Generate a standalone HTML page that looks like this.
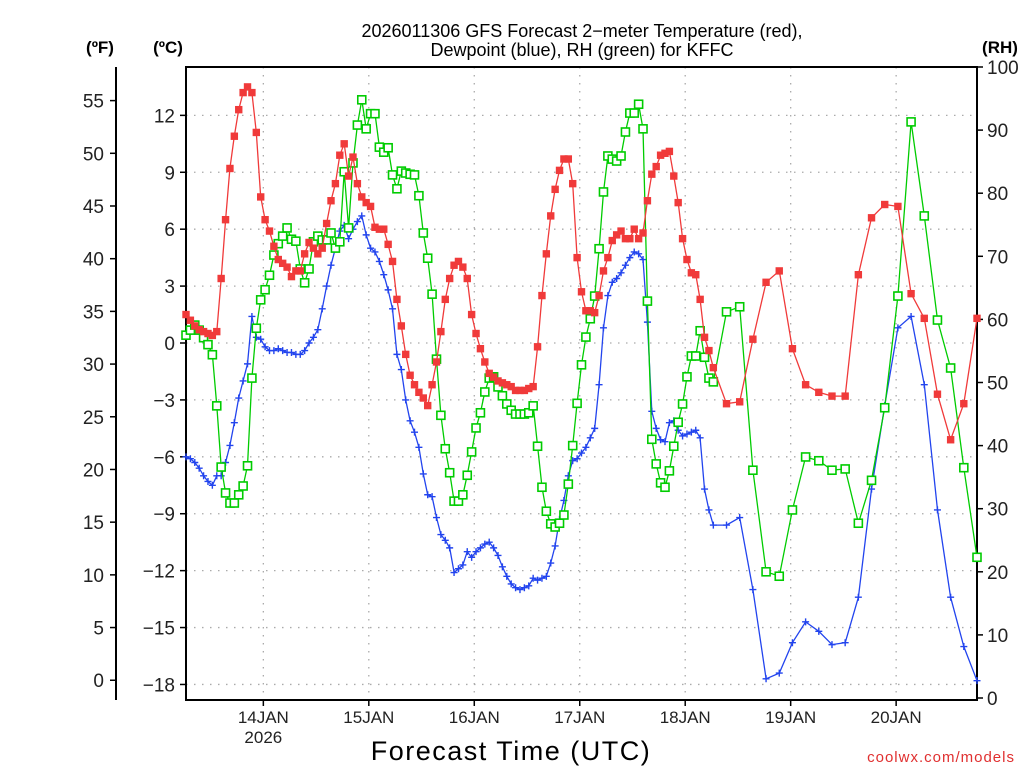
<!DOCTYPE html>
<html><head><meta charset="utf-8"><title>GFS KFFC</title>
<style>
html,body{margin:0;padding:0;background:#fff;}
svg{display:block;font-family:"Liberation Sans",sans-serif;}
</style></head>
<body>
<svg id="chart" width="1024" height="768" viewBox="0 0 1024 768" xmlns="http://www.w3.org/2000/svg">
<rect x="0" y="0" width="1024" height="768" fill="#fff"/>
<g id="grid"></g>
<g id="axes"></g>
<g id="series"></g>
<text x="582" y="37" font-size="18" text-anchor="middle" fill="#000">2026011306 GFS Forecast 2−meter Temperature (red),</text>
<text x="582" y="56" font-size="18" text-anchor="middle" fill="#000">Dewpoint (blue), RH (green) for KFFC</text>
<text x="100" y="53" font-size="17" font-weight="bold" text-anchor="middle">(ºF)</text>
<text x="168" y="53" font-size="17" font-weight="bold" text-anchor="middle">(ºC)</text>
<text x="1000" y="53" font-size="17" font-weight="bold" text-anchor="middle">(RH)</text>
<text x="511" y="760" font-size="27" letter-spacing="1.5" text-anchor="middle">Forecast Time (UTC)</text>
<text x="1015" y="762" font-size="15" letter-spacing="1" text-anchor="end" fill="#e03030">coolwx.com/models</text>
</svg>
<script>
// ---- data ----
const hourlyTemp = [1.5,1.2,0.9,0.7,0.6,0.5,0.4,0.6,3.4,6.5,9.2,10.9,12.3,13.2,13.5,13.2,11.1,7.7,6.5,5.9,5.1,4.4,4.2,4.0,3.5,3.8,3.8,4.7,5.3,5.0,4.7,5.0,6.3,7.5,8.4,9.9,10.5,8.8,9.8,8.4,7.7,7.4,7.2,6.1,6.0,6.0,5.2,4.3,2.3,0.9,-0.6,-1.7,-2.2,-2.6,-2.9,-3.3,-2.2,-1.0,0.6,2.3,3.4,4.1,4.3,4.0,3.4,1.5,0.5,-0.3,-1.0,-1.6,-1.8,-2.0,-2.1,-2.2,-2.3,-2.5,-2.5,-2.5,-2.4,-2.3,-0.2,2.5,4.7,6.7,8.1,9.1,9.7,9.7,8.4,4.5,2.7,1.7,1.7,1.6,2.5,3.8,4.5,5.4,5.7,5.9,5.5,5.5,6.0,5.5,5.8,7.5,8.9,9.3,9.9,10.0,10.1,8.8,7.4,5.5,4.4,3.7,3.6,2.3,0.3,-0.4,-1.3];
const threeHourlyTemp = [-3.2,-3.1,0.2,3.2,3.8,-0.3,-2.2,-2.6,-2.8,-2.8,3.6,6.6,7.3,7.2,2.6,1.3,-2.7,-5.1,-3.2,1.3];
const hourlyDew = [-6.0,-6.1,-6.3,-6.6,-7.0,-7.3,-7.5,-7.0,-7.0,-6.3,-5.4,-4.2,-2.9,-2.0,-1.1,1.4,0.3,0.2,-0.2,-0.4,-0.4,-0.3,-0.4,-0.5,-0.5,-0.6,-0.6,-0.4,0,0.3,0.7,1.8,3.0,4.1,5.0,5.9,6.2,5.5,6.0,6.4,6.7,5.7,5.0,4.8,4.3,3.6,2.8,1.8,-0.6,-1.4,-3.0,-4.1,-4.7,-5.5,-6.9,-8.0,-8.1,-9.2,-10.1,-10.4,-10.8,-12.1,-11.9,-11.7,-11.0,-11.3,-11.0,-10.8,-10.6,-10.5,-10.8,-11.2,-11.8,-12.3,-12.7,-12.9,-13.0,-12.9,-12.8,-12.4,-12.5,-12.4,-12.3,-11.6,-10.7,-9.3,-8.3,-7.0,-6.2,-6.1,-5.8,-5.5,-5.0,-4.5,-2.2,0.8,2.5,3.2,3.4,3.7,4.1,4.5,4.8,4.7,4.4,1.1,-3.6,-4.5,-5.1,-5.2,-4.2,-4.1,-4.6,-4.9,-4.8,-4.7,-4.6,-5.0,-7.7,-8.8,-9.6];
const threeHourlyDew = [-9.6,-9.2,-13.0,-17.7,-17.4,-15.8,-14.7,-15.2,-15.9,-15.8,-13.4,-7.7,-3.3,0.8,1.4,-2.2,-8.8,-13.4,-16.0,-17.8];
const hourlyRH = [57.5,58.3,59.1,58.3,57.1,56.0,54.4,46.3,36.6,32.5,30.9,30.9,32.2,33.6,36.8,50.7,58.6,63.1,64.7,67.0,70.2,72.0,73.2,74.5,72.7,72.4,68.0,65.8,68.0,72.3,73.2,72.6,72.6,73.7,71.3,72.3,83.4,74.5,84.8,90.8,94.8,90.2,92.6,92.6,87.3,86.5,87.2,82.9,80.7,83.5,83.2,83.0,82.9,79.6,73.7,69.7,64.0,53.7,44.8,39.5,35.7,31.2,31.2,32.2,35.3,39.0,42.8,45.2,48.5,50.7,50.9,49.3,47.9,46.6,45.6,45.0,45.0,45.0,45.2,46.3,39.9,33.4,29.6,27.6,27.1,27.7,29.0,33.9,40.0,46.7,52.8,57.2,60.1,63.7,71.2,80.2,85.9,85.4,85.1,85.9,89.7,92.7,92.7,94.1,90.2,62.9,41.0,37.1,34.1,33.4,36.0,39.9,43.7,46.6,50.9,54.2,54.2,58.2,54.0,50.7,50.1];
const threeHourlyRH = [61.2,62.0,36.1,20.0,19.3,29.8,38.2,37.6,36.1,36.3,27.7,34.5,46.0,63.7,91.3,76.4,59.9,52.3,36.5,22.3];
const dayTickHours = [17.6,41.6,65.6,89.6,113.6,137.6,161.6];
const dayTickLabels = ["14JAN","15JAN","16JAN","17JAN","18JAN","19JAN","20JAN"];
const celsiusTicks = [12,9,6,3,0,-3,-6,-9,-12,-15,-18];
const fahrenheitTicks = [55,50,45,40,35,30,25,20,15,10,5,0];
const rhTicks = [100,90,80,70,60,50,40,30,20,10,0];

// ---- scales ----
const X0=186, X1=977, YT=67, YB=700;
function xH(h){return X0 + h*(X1-X0)/180;}
function yC(c){return 343 - c*18.97;}
function yF(f){return yC((f-32)*5/9);}
function yR(r){return 698 - r*6.31;}
const NS="http://www.w3.org/2000/svg";
function mk(tag,attrs,parent){const e=document.createElementNS(NS,tag);for(const k in attrs)e.setAttribute(k,attrs[k]);parent.appendChild(e);return e;}

const grid=document.getElementById('grid'), axes=document.getElementById('axes'), series=document.getElementById('series');

celsiusTicks.forEach(c=>{
  const l=mk('line',{x1:X0,x2:X1,y1:yC(c),y2:yC(c),stroke:'#aaa','stroke-width':1.3,'stroke-dasharray':'1.5 6.5'},grid);
  
  
});
dayTickHours.forEach(h=>{
  const l=mk('line',{x1:xH(h),x2:xH(h),y1:YT,y2:YB,stroke:'#aaa','stroke-width':1.3,'stroke-dasharray':'1.5 6.5'},grid);
  
  
});

const fr=mk('rect',{x:X0,y:YT,width:X1-X0,height:YB-YT,fill:'none',stroke:'#000','stroke-width':2},axes);


const fs=mk('line',{x1:116,x2:116,y1:YT,y2:YB,stroke:'#000','stroke-width':2},axes);



celsiusTicks.forEach(c=>{
  const y=yC(c);
  mk('line',{x1:X0-6,x2:X0,y1:y,y2:y,stroke:'#000','stroke-width':1.5},axes);
  const t=mk('text',{x:X0-11,y:y+7,'font-size':19,'text-anchor':'end',fill:'#222'},axes);
  t.textContent=(c<0?'−'+(-c):String(c));
  
  
});
fahrenheitTicks.forEach(f=>{
  const y=yF(f);
  mk('line',{x1:110,x2:116,y1:y,y2:y,stroke:'#000','stroke-width':1.5},axes);
  const t=mk('text',{x:104,y:y+7,'font-size':19,'text-anchor':'end',fill:'#222'},axes);
  t.textContent=String(f);
  
  
});
rhTicks.forEach(r=>{
  const y=yR(r);
  mk('line',{x1:X1,x2:X1+6,y1:y,y2:y,stroke:'#000','stroke-width':1.5},axes);
  const t=mk('text',{x:X1+10,y:y+7,'font-size':19,'text-anchor':'start',fill:'#222'},axes);
  t.textContent=String(r);
  
  
});
dayTickHours.forEach((h,i)=>{
  const x=xH(h);
  mk('line',{x1:x,x2:x,y1:YB,y2:YB+6,stroke:'#000','stroke-width':1.5},axes);
  const t=mk('text',{x:x,y:YB+23,'font-size':17,'text-anchor':'middle',fill:'#222'},axes);
  t.textContent=dayTickLabels[i];
  
  
});
const yr=mk('text',{x:xH(dayTickHours[0]),y:YB+43,'font-size':17,'text-anchor':'middle',fill:'#222'},axes);
yr.textContent='2026';



function build(hourly,three){
  const pts=[];
  hourly.forEach((v,i)=>pts.push([i,v]));
  three.forEach((v,i)=>pts.push([123+3*i,v]));
  return pts;
}
function drawSeries(pts,yfn,color,kind,name){
  const g=mk('g',{},series);
  
  
  const d=pts.map((p,i)=>(i?'L':'M')+xH(p[0]).toFixed(1)+' '+yfn(p[1]).toFixed(1)).join(' ');
  mk('path',{d:d,fill:'none',stroke:color,'stroke-width':1.3},g);
  pts.forEach(p=>{
    const x=xH(p[0]), y=yfn(p[1]);
    let m;
    if(kind==='filled'){m=mk('rect',{x:x-3.7,y:y-3.7,width:7.4,height:7.4,fill:color},g);}
    else if(kind==='hollow'){m=mk('rect',{x:x-4,y:y-4,width:8,height:8,fill:'#fff',stroke:color,'stroke-width':1.6},g);}
    else {m=mk('path',{d:`M${x-3.5} ${y}H${x+3.5}M${x} ${y-3.5}V${y+3.5}`,stroke:color,'stroke-width':1.4,fill:'none'},g);}
    
    
  });
}
drawSeries(build(hourlyDew,threeHourlyDew),yC,'#2244ee','plus','dewpoint-series');
drawSeries(build(hourlyRH,threeHourlyRH),yR,'#00cc00','hollow','rh-series');
drawSeries(build(hourlyTemp,threeHourlyTemp),yC,'#f03a3a','filled','temperature-series');
</script>
</body></html>
